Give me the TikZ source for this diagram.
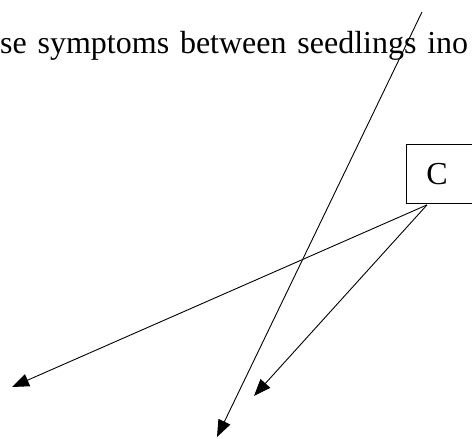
\documentclass[tikz,border=0pt]{standalone}
\usepackage{fontspec}
\setmainfont{Liberation Serif}
\usetikzlibrary{arrows.meta,positioning}

\begin{document}
\begin{tikzpicture}[x=1pt, y=-1pt,
    link/.style={line width=0.9pt, -{Triangle[length=17pt, width=13pt]}},
    labelbox/.style={draw, line width=0.9pt, anchor=north west, minimum height=59pt,
        text width=60pt, inner xsep=20pt, inner ysep=0pt, align=left,
        font=\fontsize{32}{38}\selectfont}]
    % Page frame
    \clip (0,0) rectangle (472,439);

    % Cut-off line of text
    \node (caption) [anchor=base west, inner sep=0pt, font=\fontsize{32}{38}\selectfont]
        at (0,53) {\makebox[468pt][s]{se symptoms between seedlings ino}};

    % Box C
    \node (c) [labelbox] at (406,144) {C};
    \coordinate (cfoot) at ([xshift=21pt, yshift=-1pt]c.south west);

    % Free arrow ends
    \coordinate (leftend) at (12,387);
    \coordinate (midend) at (254,396);
    \coordinate (topend) at (422,12);
    \coordinate (lowend) at (217,437);

    % Arrows
    \draw[link] (cfoot) -- (leftend);
    \draw[link] (cfoot) -- (midend);
    \draw[link] (topend) -- (lowend);
\end{tikzpicture}
\end{document}
